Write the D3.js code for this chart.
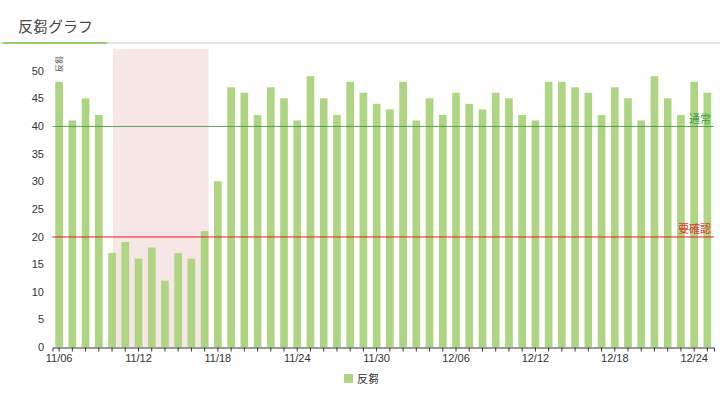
<!DOCTYPE html>
<html>
<head>
<meta charset="utf-8">
<script src="https://cdn.jsdelivr.net/npm/d3@7"></script>
<style>
  body { margin: 0; background: #fff; }
  svg { display: block; font-family: "Noto Sans CJK JP", "Noto Sans", sans-serif; }
</style>
</head>
<body>
<div id="chart"></div>
<script>
// days shown on the x axis
const dates = [
  "11/06","11/07","11/08","11/09","11/10","11/11","11/12","11/13","11/14","11/15",
  "11/16","11/17","11/18","11/19","11/20","11/21","11/22","11/23","11/24","11/25",
  "11/26","11/27","11/28","11/29","11/30","12/01","12/02","12/03","12/04","12/05",
  "12/06","12/07","12/08","12/09","12/10","12/11","12/12","12/13","12/14","12/15",
  "12/16","12/17","12/18","12/19","12/20","12/21","12/22","12/23","12/24","12/25"
];
// rumination per day
const rumination = [
  48, 41, 45, 42, 17, 19, 16, 18, 12, 17,
  16, 21, 30, 47, 46, 42, 47, 45, 41, 49,
  45, 42, 48, 46, 44, 43, 48, 41, 45, 42,
  46, 44, 43, 46, 45, 42, 41, 48, 48, 47,
  46, 42, 47, 45, 41, 49, 45, 42, 48, 46
];
const xTickLabels = ["11/06","11/12","11/18","11/24","11/30","12/06","12/12","12/18","12/24"];
const yTicks = [0, 5, 10, 15, 20, 25, 30, 35, 40, 45, 50];
const thresholdValues = [40, 20];
const thresholdLabels = ["通常", "要確認"];
const highlightRange = ["11/10", "11/17"];

const colors = { bar: "#aed581", normal: "rgba(56,142,60,0.8)", normalText: "#43a047",
                 check: "#f01818", checkText: "#e53935", band: "#f6e6e6", text: "#333" };

let svg = d3.select("#chart").append("svg")
  .attr("width", 720).attr("height", 393);

// title + underline
svg.append("text")
  .attr("x", 18).attr("y", 32)
  .style("font-size", "15px")
  .attr("fill", "#444")
  .text("反芻グラフ");
svg.append("rect").attr("x", 0).attr("y", 42).attr("width", 720).attr("height", 2).attr("fill", "#e6e6e6");
svg.append("rect").attr("x", 3).attr("y", 42).attr("width", 104).attr("height", 2).attr("fill", "#9ccc65");

// scales
let x = d3.scaleBand().domain(dates).range([52.5, 714]).paddingInner(0.42).paddingOuter(0.21);
let y = d3.scaleLinear().domain([0, 50]).range([347, 70.7]);
let bw = x.bandwidth();

// highlighted period
svg.append("rect")
  .attr("x", x(highlightRange[0]) + bw / 2 + 1)
  .attr("y", y(53.9))
  .attr("width", (x(highlightRange[1]) + bw) - (x(highlightRange[0]) + bw / 2 + 1))
  .attr("height", y(0) - y(53.9))
  .attr("fill", colors.band);

// bars
svg.selectAll(".bar")
  .data(dates)
  .enter()
  .append("rect")
  .attr("class", "bar")
  .attr("x", d => x(d))
  .attr("width", bw)
  .attr("y", (d, i) => y(rumination[i]))
  .attr("height", (d, i) => y(0) - y(rumination[i]))
  .attr("fill", colors.bar);

// threshold lines
let lineColors = [colors.normal, colors.check];
let textColors = [colors.normalText, colors.checkText];
thresholdValues.forEach(function(v, i) {
  svg.append("line")
    .attr("x1", 52.5).attr("x2", 714)
    .attr("y1", y(v) + 0.5).attr("y2", y(v) + 0.5)
    .attr("stroke", lineColors[i]).attr("stroke-width", 1);
  svg.append("text")
    .attr("x", 711).attr("y", y(v) - 3)
    .attr("text-anchor", "end")
    .style("font-size", "11px")
    .attr("fill", textColors[i])
    .text(thresholdLabels[i]);
});

// x axis
let xAxis = svg.append("g")
  .attr("transform", "translate(0," + (y(0) + 0.5) + ")")
  .call(d3.axisBottom(x).tickSize(4).tickSizeOuter(4)
    .tickFormat(d => xTickLabels.includes(d) ? d : ""));
xAxis.select(".domain").attr("stroke", "#333");
xAxis.selectAll(".tick line").attr("stroke", "#333");
xAxis.selectAll(".tick text").attr("fill", colors.text).style("font-size", "11px").attr("dy", "0.65em");

// y axis
let yAxis = svg.append("g")
  .attr("transform", "translate(52.5,0)")
  .call(d3.axisLeft(y).tickValues(yTicks).tickSize(0).tickPadding(8.5));
yAxis.select(".domain").remove();
yAxis.selectAll(".tick text").attr("fill", colors.text).style("font-size", "11px");

// y axis title
svg.append("text")
  .attr("transform", "translate(62,72) rotate(-90)")
  .style("font-size", "8px")
  .attr("fill", "#555")
  .text("反芻");

// legend
svg.append("rect").attr("x", 344).attr("y", 374).attr("width", 9).attr("height", 9).attr("fill", colors.bar);
svg.append("text")
  .attr("x", 357).attr("y", 383)
  .style("font-size", "11px")
  .attr("fill", colors.text)
  .text("反芻");
</script>
</body>
</html>
